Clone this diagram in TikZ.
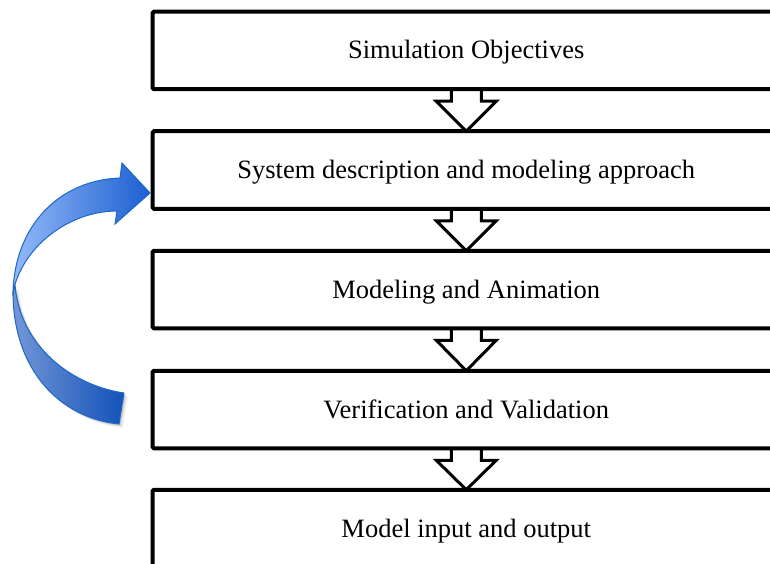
\documentclass[tikz,border=0pt]{standalone}
\usepackage{fontspec}
\setmainfont{Liberation Serif}
\usetikzlibrary{calc}
\definecolor{frontlight}{HTML}{93B9F8}
\definecolor{frontdark}{HTML}{1C60D2}
\definecolor{backlight}{HTML}{7396D8}
\definecolor{backdark}{HTML}{1352B8}
\definecolor{bandline}{HTML}{1B68C8}
\begin{document}
\begin{tikzpicture}[x=1pt,y=-1pt,
  stepbox/.style={draw=black, line width=4pt, rounded corners=1.5pt,
    minimum width=627.5pt, minimum height=77.5pt, outer sep=0pt, inner sep=0pt,
    text height=17pt, text depth=0pt,
    font=\fontsize{26.5}{30}\selectfont},
  flowarrow/.style={draw=black, line width=3pt, line join=miter, miter limit=10},
  band/.style={draw=bandline, line width=1pt, line join=round}]
\useasboundingbox (0,0) rectangle (770,564);
\clip (0,0) rectangle (770,564);
\fill[white] (0,0) rectangle (770,564);

% process steps
\node[stepbox] (s1) at (466.25,50.5)  {Simulation Objectives};
\node[stepbox] (s2) at (466.25,170)   {System description and modeling approach};
\node[stepbox] (s3) at (466.25,289.5) {Modeling and Animation};
\node[stepbox] (s4) at (466.25,409.5) {Verification and Validation};
\node[stepbox] (s5) at (466.25,528.5) {Model input and output};

% hollow block arrows between consecutive steps
\foreach \a/\b in {s1/s2,s2/s3,s3/s4,s4/s5}{
  \draw[flowarrow] ($(\a.south)+(-15,0)$) -- ++(0,12) -- ++(-15,0)
    -- (\b.north) -- ($(\a.south)+(30,12)$) -- ++(-15,0) -- ++(0,-12);
}

% soft shadow under the back part of the curved arrow
\foreach \d/\o in {1/0.10,2/0.08,3/0.06,4/0.04}{
  \fill[black, opacity=\o, shift={(\d,\d)}]
    (15,285) .. controls (20,345) and (70,385) .. (124,393) -- (119,424)
    .. controls (60,418) and (13,370) .. (13,292) -- cycle;
}
% back part of the curved feedback arrow
\path[band, left color=backlight, right color=backdark]
  (15,285) .. controls (20,345) and (70,385) .. (124,393) -- (119,424)
  .. controls (60,418) and (13,370) .. (13,292) -- cycle;
% front part with the arrow head
\path[band, line join=miter, left color=frontlight, right color=frontdark]
  (13,292) .. controls (15,225) and (60,180) .. (120,178) -- (122,163)
  -- (150,193) -- (115,224) -- (117,211)
  .. controls (70,211) and (25,245) .. (14,288) -- cycle;
\end{tikzpicture}
\end{document}
